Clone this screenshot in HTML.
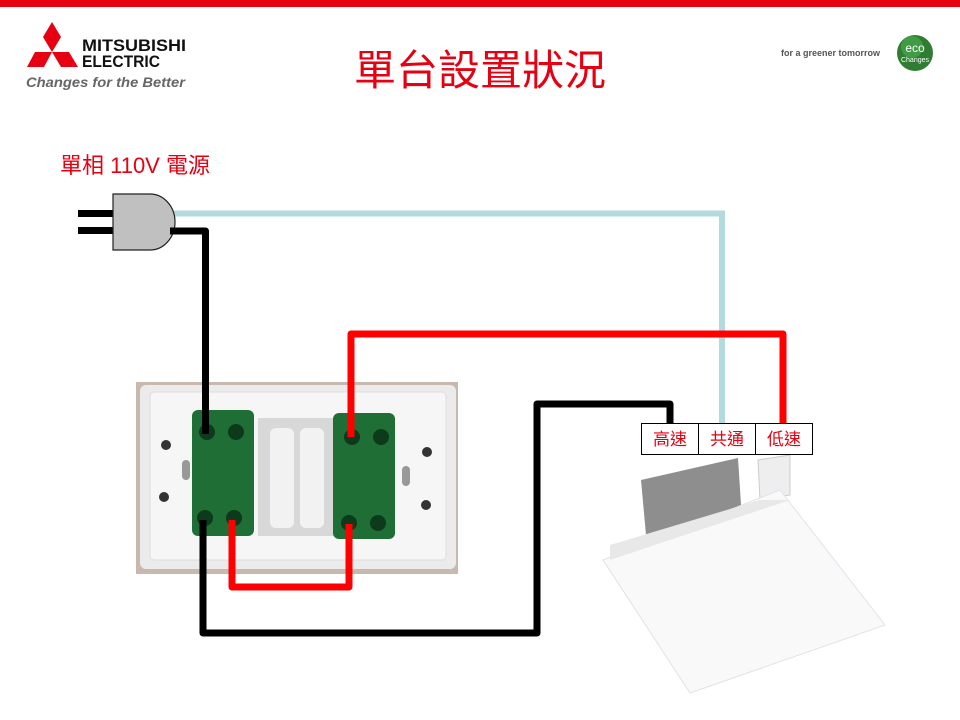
<!DOCTYPE html>
<html><head><meta charset="utf-8"><style>
html,body{margin:0;padding:0;background:#fff;}
svg{display:block;}
text{font-family:"Liberation Sans","Noto Sans CJK TC",sans-serif;}
</style></head><body>
<svg width="960" height="720" viewBox="0 0 960 720" xmlns="http://www.w3.org/2000/svg">
<rect x="0" y="0" width="960" height="7" fill="#e60012"/>
<g fill="#e60012">
<polygon points="52,22 61,37 52,52 43,37"/>
<polygon points="43,52 52,52 44,67 27,67 35,52"/>
<polygon points="61,52 69,52 78,67 61,67 52,52"/>
</g>
<text x="82" y="51" font-size="17" font-weight="bold" fill="#111" textLength="104" lengthAdjust="spacingAndGlyphs">MITSUBISHI</text>
<text x="82" y="67" font-size="17" font-weight="bold" fill="#111" textLength="78" lengthAdjust="spacingAndGlyphs">ELECTRIC</text>
<text x="26" y="87" font-size="14" font-style="italic" font-weight="bold" fill="#666" textLength="159" lengthAdjust="spacingAndGlyphs">Changes for the Better</text>
<text x="781" y="56" font-size="9" font-weight="bold" fill="#555">for a greener tomorrow</text>
<circle cx="915" cy="53" r="18" fill="#2e7d32"/>
<circle cx="912" cy="47" r="11" fill="#4caf50" opacity="0.6"/>
<text x="915" y="52" font-size="12" fill="#fff" text-anchor="middle" font-family="Liberation Serif">eco</text>
<text x="915" y="62" font-size="7" fill="#fff" text-anchor="middle" font-family="Liberation Serif">Changes</text>
<text x="480" y="85" font-size="42" fill="#e60012" text-anchor="middle">單台設置狀況</text>
<text x="60" y="173" font-size="22" fill="#e60012">單相 110V 電源</text>
<polyline points="172,213.5 722,213.5 722,428" fill="none" stroke="#b3dadd" stroke-width="6"/>
<polyline points="78,213.5 116,213.5" stroke="#000" stroke-width="7"/>
<polyline points="78,230.5 116,230.5" stroke="#000" stroke-width="7"/>
<path d="M113,194 H150 A25,28 0 0 1 150,250 H113 Z" fill="#c0c0c0" stroke="#222" stroke-width="1.2"/>
<rect x="136" y="382" width="322" height="192" fill="#c8b8ae"/>
<rect x="140" y="385" width="316" height="184" rx="6" fill="#ecebeb"/>
<rect x="150" y="392" width="296" height="168" rx="4" fill="#f6f6f6" stroke="#ddd"/>
<rect x="258" y="418" width="80" height="118" fill="#d8d8d8"/>
<rect x="270" y="428" width="24" height="100" rx="6" fill="#f2f2f2"/>
<rect x="300" y="428" width="24" height="100" rx="6" fill="#f2f2f2"/>
<rect x="192" y="410" width="62" height="126" rx="6" fill="#1f6e35"/>
<rect x="333" y="413" width="62" height="126" rx="6" fill="#1f6e35"/>
<g fill="#0d3a1a">
<circle cx="207" cy="432" r="8"/><circle cx="236" cy="432" r="8"/>
<circle cx="205" cy="518" r="8"/><circle cx="234" cy="518" r="8"/>
<circle cx="352" cy="437" r="8"/><circle cx="381" cy="437" r="8"/>
<circle cx="349" cy="523" r="8"/><circle cx="378" cy="523" r="8"/>
</g>
<g fill="#333"><circle cx="166" cy="445" r="5"/><circle cx="164" cy="497" r="5"/><circle cx="427" cy="452" r="5"/><circle cx="426" cy="505" r="5"/></g>
<rect x="182" y="460" width="8" height="20" rx="4" fill="#999"/>
<rect x="402" y="466" width="8" height="20" rx="4" fill="#999"/>
<polyline points="170,231 205.5,231 205.5,434" fill="none" stroke="#000" stroke-width="7" stroke-linejoin="round"/>
<polyline points="351,437 351,334 783,334 783,426" fill="none" stroke="#ff0000" stroke-width="7" stroke-linejoin="round"/>
<polyline points="232,520 232,587 349,587 349,524" fill="none" stroke="#ff0000" stroke-width="7" stroke-linejoin="round"/>
<polyline points="203,520 203,633 537,633 537,404 670,404 670,425" fill="none" stroke="#000" stroke-width="7" stroke-linejoin="round"/>
<polygon points="641,480 738,458 742,520 646,535" fill="#8e8e8e"/>
<polygon points="758,460 790,455 790,495 760,500" fill="#eee" stroke="#ccc"/>
<polygon points="603,560 780,490 885,625 690,693" fill="#f9f9f9" stroke="#dde4ea"/>
<polygon points="610,545 760,500 790,500 610,560" fill="#e8e8e8"/>
<rect x="641.5" y="423.5" width="171" height="31" fill="#fff" stroke="#000"/>
<line x1="698.5" y1="423.5" x2="698.5" y2="454.5" stroke="#000"/>
<line x1="755.5" y1="423.5" x2="755.5" y2="454.5" stroke="#000"/>
<text x="670" y="445" font-size="17" fill="#e60012" text-anchor="middle">高速</text>
<text x="727" y="445" font-size="17" fill="#e60012" text-anchor="middle">共通</text>
<text x="784" y="445" font-size="17" fill="#e60012" text-anchor="middle">低速</text>
</svg>
</body></html>
